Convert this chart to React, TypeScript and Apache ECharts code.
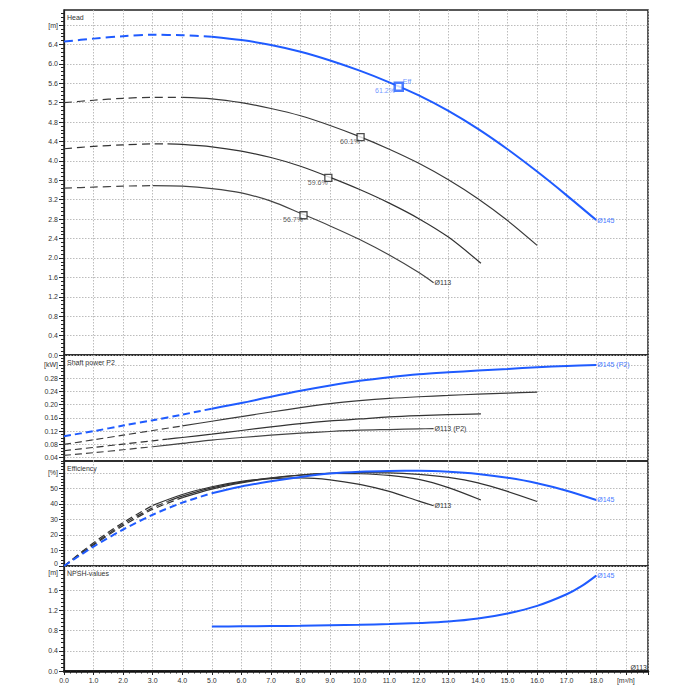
import React, { useEffect, useRef } from "react";
import * as echarts from "echarts";

// ---------- data ----------
const flow145 = [0, 1, 2, 3, 4, 5, 6, 7, 8, 9, 10, 11, 12, 13, 14, 15, 16, 17, 18];
const head145 = [6.46, 6.52, 6.57, 6.6, 6.59, 6.56, 6.49, 6.39, 6.25, 6.07, 5.86, 5.62, 5.35, 5.03, 4.66, 4.24, 3.78, 3.29, 2.78];
const power145 = [0.105, 0.12, 0.137, 0.153, 0.17, 0.188, 0.205, 0.224, 0.242, 0.258, 0.272, 0.283, 0.292, 0.298, 0.303, 0.308, 0.313, 0.317, 0.32];
const eff145 = [0, 12.5, 23.5, 33, 40.8, 46.8, 51.2, 54.5, 57.3, 59.5, 60.7, 61.2, 61.3, 60.7, 59.3, 56.8, 53.3, 48.5, 42.5];

const flowA = [0, 1, 2, 3, 4, 5, 6, 7, 8, 9, 10, 11, 12, 13, 14, 15, 16];
const headA = [5.2, 5.25, 5.29, 5.31, 5.31, 5.28, 5.2, 5.08, 4.93, 4.73, 4.5, 4.24, 3.95, 3.61, 3.22, 2.77, 2.26];
const powerA = [0.08, 0.094, 0.108, 0.122, 0.136, 0.15, 0.164, 0.178, 0.191, 0.203, 0.212, 0.219, 0.224, 0.228, 0.232, 0.235, 0.238];
const effA = [0, 13.5, 26, 36.5, 44, 49.5, 53.5, 56.5, 58.5, 59.7, 60.1, 60, 59, 57, 53.5, 48, 41.5];

const flowB = [0, 1, 2, 3, 3.5, 4, 5, 6, 7, 8, 9, 10, 11, 12, 13, 14.1];
const headB = [4.25, 4.3, 4.33, 4.35, 4.35, 4.34, 4.29, 4.2, 4.07, 3.89, 3.66, 3.41, 3.13, 2.81, 2.43, 1.89];
const powerB = [0.061, 0.071, 0.081, 0.091, 0.096, 0.101, 0.111, 0.122, 0.133, 0.143, 0.151, 0.157, 0.163, 0.167, 0.17, 0.172];
const effB = [0, 14, 27, 37.5, 41.5, 45, 50.3, 54, 56.8, 58.6, 59.6, 59.4, 58.3, 55.8, 50.5, 42.5];

const flowC = [0, 1, 2, 3, 4, 5, 6, 7, 8, 9, 10, 11, 12, 12.5];
const headC = [3.44, 3.46, 3.48, 3.49, 3.48, 3.43, 3.34, 3.17, 2.92, 2.66, 2.38, 2.06, 1.7, 1.49];
const powerC = [0.047, 0.055, 0.064, 0.073, 0.083, 0.093, 0.101, 0.108, 0.114, 0.119, 0.123, 0.125, 0.127, 0.128];
const effC = [0, 15, 28, 39, 46, 51, 54.5, 56.3, 56.7, 55.5, 52.5, 48, 41.8, 38.8];

const flowNpsh = [5, 6, 7, 8, 9, 10, 11, 12, 13, 14, 15, 16, 17, 17.5, 18];
const npsh145 = [0.88, 0.885, 0.89, 0.895, 0.905, 0.915, 0.93, 0.95, 0.98, 1.04, 1.14, 1.29, 1.52, 1.68, 1.89];

// flow where the dashed (not recommended) part ends
const dashEnd145 = 5;
const dashEndA = 4;
const dashEndB = 3.5;
const dashEndC = 3;

// best efficiency points
const bepFlow = [11.32, 10.03, 8.94, 8.1];
const bepHead = [5.53, 4.49, 3.65, 2.88];
const bepLabel = ["61.2%", "60.1%", "59.6%", "56.7%"];

// tick labels
const xTicks = [0, 1, 2, 3, 4, 5, 6, 7, 8, 9, 10, 11, 12, 13, 14, 15, 16, 17, 18, 19];
const xTickLabels = ["0.0", "1.0", "2.0", "3.0", "4.0", "5.0", "6.0", "7.0", "8.0", "9.0", "10.0", "11.0", "12.0", "13.0", "14.0", "15.0", "16.0", "17.0", "18.0", "[m³/h]"];
const headTicks = [0, 0.4, 0.8, 1.2, 1.6, 2.0, 2.4, 2.8, 3.2, 3.6, 4.0, 4.4, 4.8, 5.2, 5.6, 6.0, 6.4, 6.8];
const headTickLabels = ["0.0", "0.4", "0.8", "1.2", "1.6", "2.0", "2.4", "2.8", "3.2", "3.6", "4.0", "4.4", "4.8", "5.2", "5.6", "6.0", "6.4", "[m]"];
const powerTicks = [0.04, 0.08, 0.12, 0.16, 0.2, 0.24, 0.28, 0.32];
const powerTickLabels = ["0.04", "0.08", "0.12", "0.16", "0.20", "0.24", "0.28", "[kW]"];
const effTicks = [0, 10, 20, 30, 40, 50, 60];
const effTickLabels = ["{lo|0}", "10", "20", "30", "40", "50", "[%]"];
const npshTicks = [0, 0.4, 0.8, 1.2, 1.6, 2.0];
const npshTickLabels = ["0.0", "0.4", "0.8", "1.2", "1.6", "{hi|[m]}"];

const panelTitles = ["Head", "Shaft power P2", "Efficiency", "NPSH-values"];

// ---------- layout / style ----------
const BLUE = "#1f5bff";
const BLUE_TXT = "#4a7bff";
const FONT = "Liberation Sans, Arial, sans-serif";
const gridLeft = 64;
const gridWidth = 584;
const panels = [
  { top: 10, height: 345, min: 0, max: 7.11, minor: 0.08 },
  { top: 355, height: 106, min: 0.03, max: 0.35, minor: 0.01 },
  { top: 461, height: 105, min: 0, max: 67.6, minor: 2 },
  { top: 566, height: 105, min: 0, max: 2.08, minor: 0.08 },
];
const yTicks = [headTicks, powerTicks, effTicks, npshTicks];
const yTickLabels = [headTickLabels, powerTickLabels, effTickLabels, npshTickLabels];

function pairs(xs: number[], ys: number[]) {
  return xs.map((x, i) => [x, ys[i]]);
}
function splitAt(xs: number[], ys: number[], q: number) {
  const all = pairs(xs, ys);
  return {
    dashed: all.filter((p) => p[0] <= q + 1e-9),
    solid: all.filter((p) => p[0] >= q - 1e-9),
  };
}
function minorValues(min: number, max: number, step: number) {
  const out: number[] = [];
  const start = Math.ceil(min / step - 1e-9);
  for (let i = start; i * step <= max + 1e-9; i++) out.push(Math.round(i * step * 10000) / 10000);
  return out;
}

function curve(
  g: number,
  xs: number[],
  ys: number[],
  q: number,
  color: string,
  width: number,
  dash: number[],
  endText?: string,
  endColor?: string,
  z = 3
) {
  const parts = splitAt(xs, ys, q);
  const base = {
    type: "line",
    xAxisIndex: g,
    yAxisIndex: g,
    symbol: "none",
    showSymbol: false,
    smooth: 0.3,
    silent: true,
    z,
  };
  const res: any[] = [];
  if (parts.dashed.length > 1) {
    res.push({ ...base, data: parts.dashed, lineStyle: { color, width, type: dash } });
  }
  res.push({
    ...base,
    data: parts.solid,
    lineStyle: { color, width, type: "solid" },
    endLabel: endText
      ? { show: true, formatter: endText, color: endColor || color, fontSize: 7, fontFamily: FONT, distance: 1 }
      : { show: false },
  });
  return res;
}

function buildOption() {
  const grid = panels.map((p) => ({
    left: gridLeft,
    width: gridWidth,
    top: p.top,
    height: p.height,
    show: true,
    borderColor: "#222",
    borderWidth: 1.5,
    backgroundColor: "transparent",
  }));

  const splitLine = { show: true, lineStyle: { color: "#b4b4b4", width: 0.9, type: [1.5, 1.5] } };

  const xAxis = panels.map((_, i) => {
    const bottom = i === panels.length - 1;
    return {
      type: "value",
      gridIndex: i,
      min: 0,
      max: 19.75,
      interval: 1,
      axisLine: { show: bottom, lineStyle: { color: "#111", width: 2.5 } },
      axisTick: { show: bottom, length: 4, lineStyle: { color: "#222", width: 1 } },
      minorTick: { show: bottom, splitNumber: 5, length: 2.5, lineStyle: { color: "#222", width: 1 } },
      axisLabel: bottom
        ? {
            show: true,
            customValues: xTicks,
            formatter: (v: number) => xTickLabels[xTicks.findIndex((t) => Math.abs(t - v) < 1e-6)] ?? "",
            fontSize: 7,
            fontFamily: FONT,
            color: "#333",
            margin: 6,
          }
        : { show: false },
      splitLine,
    };
  });

  const yMain = panels.map((p, i) => ({
    type: "value",
    gridIndex: i,
    position: "left",
    min: p.min,
    max: p.max,
    axisLine: { show: true, lineStyle: { color: "#222", width: 1.2 } },
    axisTick: { show: true, customValues: yTicks[i], length: 5, lineStyle: { color: "#222", width: 1 } },
    axisLabel: {
      show: true,
      customValues: yTicks[i],
      formatter: (v: number) => yTickLabels[i][yTicks[i].findIndex((t) => Math.abs(t - v) < 1e-6)] ?? "",
      fontSize: 7,
      fontFamily: FONT,
      color: "#333",
      margin: 6,
      rich: {
        lo: { fontSize: 7, fontFamily: FONT, color: "#333", padding: [0, 0, 5, 0] },
        hi: { fontSize: 7, fontFamily: FONT, color: "#333", padding: [5, 0, 0, 0] },
      },
    },
    splitLine,
  }));

  const yMinor = panels.map((p, i) => ({
    type: "value",
    gridIndex: i,
    position: "left",
    min: p.min,
    max: p.max,
    axisLine: { show: false },
    axisTick: { show: true, customValues: minorValues(p.min, p.max, p.minor), length: 3, lineStyle: { color: "#222", width: 1 } },
    axisLabel: { show: false },
    splitLine: { show: false },
  }));

  const series: any[] = [
    // Head
    ...curve(0, flowC, headC, dashEndC, "#444", 1.2, [8, 5], "Ø113", "#333"),
    ...curve(0, flowB, headB, dashEndB, "#333", 1.2, [8, 5]),
    ...curve(0, flowA, headA, dashEndA, "#3a3a3a", 1.2, [8, 5]),
    ...curve(0, flow145, head145, dashEnd145, BLUE, 2, [9, 5], "Ø145", BLUE_TXT, 4),
    // Power
    ...curve(1, flowC, powerC, dashEndC, "#444", 1.2, [7, 4], "Ø113 (P2)", "#333"),
    ...curve(1, flowB, powerB, dashEndB, "#333", 1.2, [7, 4]),
    ...curve(1, flowA, powerA, dashEndA, "#3a3a3a", 1.2, [7, 4]),
    ...curve(1, flow145, power145, dashEnd145, BLUE, 2, [7, 4], "Ø145 (P2)", BLUE_TXT, 4),
    // Efficiency
    ...curve(2, flowC, effC, dashEndC, "#333", 1.2, [7, 4], "Ø113", "#333"),
    ...curve(2, flowB, effB, dashEndB, "#333", 1.2, [7, 4]),
    ...curve(2, flowA, effA, dashEndA, "#333", 1.2, [7, 4]),
    ...curve(2, flow145, eff145, dashEnd145, BLUE, 2, [7, 4], "Ø145", BLUE_TXT, 4),
    // NPSH
    ...curve(3, flowNpsh, npsh145, flowNpsh[0], BLUE, 2, [7, 4], "Ø145", BLUE_TXT, 4),
    // BEP markers (black)
    {
      type: "scatter",
      xAxisIndex: 0,
      yAxisIndex: 0,
      silent: true,
      z: 6,
      symbol: "rect",
      symbolSize: 7,
      itemStyle: { color: "#fff", borderColor: "#222", borderWidth: 1.3 },
      data: bepFlow.slice(1).map((q, i) => [q, bepHead[i + 1], bepLabel[i + 1]]),
      label: {
        show: true,
        formatter: (p: any) => p.data[2],
        position: [3.5, 5],
        align: "right",
        verticalAlign: "top",
        fontSize: 7,
        fontFamily: FONT,
        color: "#333",
      },
    },
    // BEP marker blue
    {
      type: "scatter",
      xAxisIndex: 0,
      yAxisIndex: 0,
      silent: true,
      z: 7,
      symbol: "rect",
      symbolSize: 8,
      itemStyle: { color: "#fff", borderColor: BLUE, borderWidth: 2.5 },
      data: [[bepFlow[0], bepHead[0], bepLabel[0]]],
      label: {
        show: true,
        formatter: (p: any) => p.data[2],
        position: [1.5, 6],
        align: "right",
        verticalAlign: "top",
        fontSize: 7,
        fontFamily: FONT,
        color: BLUE_TXT,
      },
    },
    {
      type: "scatter",
      xAxisIndex: 0,
      yAxisIndex: 0,
      silent: true,
      z: 7,
      symbol: "circle",
      symbolSize: 1,
      itemStyle: { color: "rgba(0,0,0,0)" },
      data: [[bepFlow[0], bepHead[0], "Eff"]],
      label: {
        show: true,
        formatter: (p: any) => p.data[2],
        position: [4.5, -5],
        align: "left",
        verticalAlign: "middle",
        fontSize: 7,
        fontFamily: FONT,
        color: BLUE_TXT,
      },
    },
  ];

  const graphic: any[] = panels.map((p, i) => ({
    type: "text",
    left: gridLeft + 3,
    top: p.top + 4,
    silent: true,
    style: { text: panelTitles[i], fontSize: 7, fontFamily: FONT, fill: "#333" },
  }));
  graphic.push({
    type: "text",
    x: gridLeft + gridWidth - 1,
    y: 667,
    silent: true,
    style: { text: "Ø113", fontSize: 7, fontFamily: FONT, fill: "#333", align: "right", verticalAlign: "middle" },
  });

  return {
    animation: false,
    backgroundColor: "#fff",
    textStyle: { fontFamily: FONT },
    grid,
    xAxis,
    yAxis: [...yMain, ...yMinor],
    series,
    graphic,
  };
}

export default function App() {
  const ref = useRef<HTMLDivElement>(null);
  useEffect(() => {
    const chart = echarts.init(ref.current!, null, { renderer: "svg" });
    chart.setOption(buildOption() as any);
    return () => chart.dispose();
  }, []);
  return <div ref={ref} style={{ position: "absolute", left: 0, top: 0, width: 700, height: 700 }} />;
}
